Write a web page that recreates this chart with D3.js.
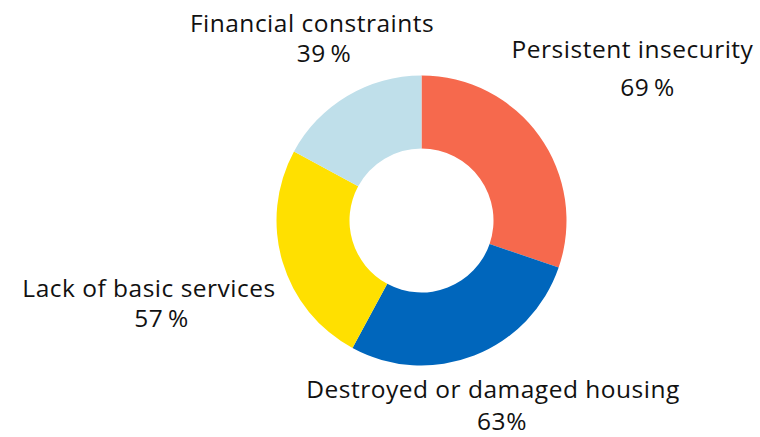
<!DOCTYPE html>
<html>
<head>
<meta charset="utf-8">
<script src="https://cdn.jsdelivr.net/npm/d3@7/dist/d3.min.js"></script>
<style>
  html, body { margin: 0; padding: 0; background: #ffffff; }
  svg { display: block; }
  text { font-family: "Open Sans", "Noto Sans", sans-serif; fill: #111111; }
</style>
</head>
<body>
<svg id="chart" width="760" height="437"></svg>
<script>
// Reasons reported (share of respondents, %)
const categories = ["Persistent insecurity", "Destroyed or damaged housing", "Lack of basic services", "Financial constraints"];
const values = [69, 63, 57, 39];
const valueLabels = ["69\u2009%", "63%", "57\u2009%", "39\u2009%"];
const colors = ["#f6694d", "#0066bc", "#ffe000", "#bfdfea"];

// Label anchor points (centre of the name line, baseline) and position of the value line
const labelLayout = [
  { x: 632.5, y: 58, dx: 15, dy: 38 },
  { x: 493, y: 397.5, dx: 9, dy: 32.5 },
  { x: 149, y: 296.5, dx: 12.5, dy: 30.5 },
  { x: 312, y: 32, dx: 12, dy: 30 }
];

const svg = d3.select("#chart");
const cx = 421.5, cy = 220.5, outerR = 145, innerR = 72;

const data = categories.map((c, i) => ({ name: c, value: values[i], label: valueLabels[i], color: colors[i] }));

const pie = d3.pie().value(d => d.value).sort(null).startAngle(0).endAngle(2 * Math.PI);
const arc = d3.arc().innerRadius(innerR).outerRadius(outerR);

const g = svg.append("g").attr("transform", `translate(${cx},${cy})`);
g.selectAll("path")
  .data(pie(data))
  .join("path")
  .attr("d", arc)
  .attr("fill", d => d.data.color);

const labels = svg.append("g")
  .selectAll("g")
  .data(data)
  .join("g")
  .attr("transform", (d, i) => `translate(${labelLayout[i].x},${labelLayout[i].y})`);

labels.append("text")
  .attr("text-anchor", "middle")
  .attr("font-size", 24.5)
  .attr("letter-spacing", 0.5)
  .text(d => d.name);

labels.append("text")
  .attr("text-anchor", "middle")
  .attr("font-size", 24.5)
  .attr("letter-spacing", 0.5)
  .attr("x", (d, i) => labelLayout[i].dx)
  .attr("y", (d, i) => labelLayout[i].dy)
  .text(d => d.label);
</script>
</body>
</html>
